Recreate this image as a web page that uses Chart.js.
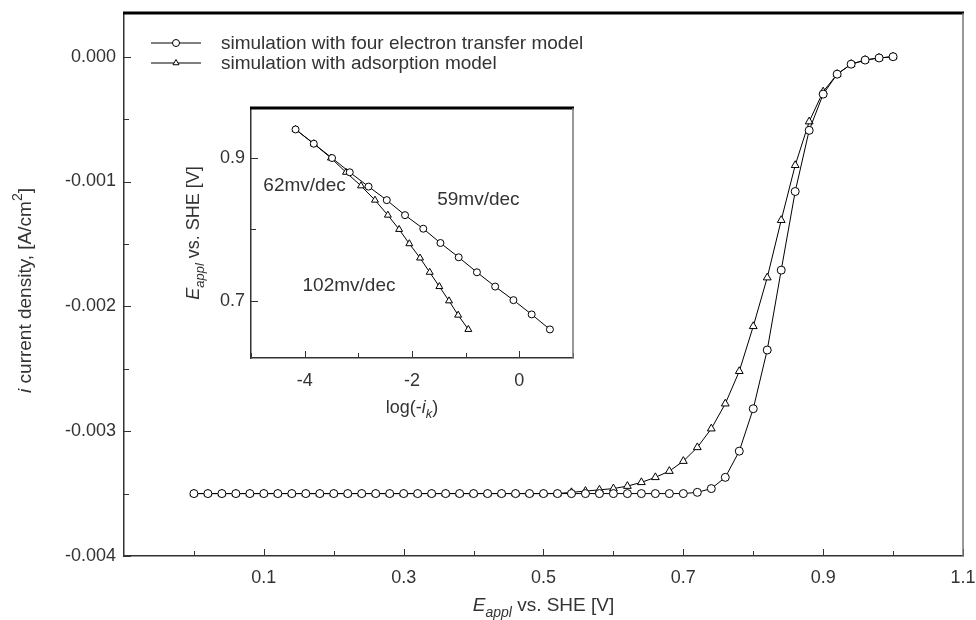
<!DOCTYPE html>
<html>
<head>
<meta charset="utf-8">
<script src="https://cdn.jsdelivr.net/npm/chart.js@4.4.0/dist/chart.umd.min.js"></script>
<style>
  html, body { margin: 0; padding: 0; background: #fff; }
  #wrap { position: relative; width: 976px; height: 620px; }
  #main { position: absolute; left: 0; top: 0; }
  #inset { position: absolute; left: 150px; top: 95px; }
</style>
</head>
<body>
<div id="wrap">
  <canvas id="main" width="976" height="620" style="width:976px;height:620px"></canvas>
  <canvas id="inset" width="440" height="330" style="width:440px;height:330px"></canvas>
</div>
<script>
// main plot: E_appl (V) vs current density (A/cm2)
const potential = [
  0.00, 0.02, 0.04, 0.06, 0.08, 0.10, 0.12, 0.14, 0.16, 0.18,
  0.20, 0.22, 0.24, 0.26, 0.28, 0.30, 0.32, 0.34, 0.36, 0.38,
  0.40, 0.42, 0.44, 0.46, 0.48, 0.50, 0.52, 0.54, 0.56, 0.58,
  0.60, 0.62, 0.64, 0.66, 0.68, 0.70, 0.72, 0.74, 0.76, 0.78,
  0.80, 0.82, 0.84, 0.86, 0.88, 0.90, 0.92, 0.94, 0.96, 0.98,
  1.00
];
const fourElectron = [
  -0.0035, -0.0035, -0.0035, -0.0035, -0.0035, -0.0035, -0.0035, -0.0035, -0.0035, -0.0035,
  -0.0035, -0.0035, -0.0035, -0.0035, -0.0035, -0.0035, -0.0035, -0.0035, -0.0035, -0.0035,
  -0.0035, -0.0035, -0.0035, -0.0035, -0.0035, -0.0035, -0.0035, -0.0035, -0.0035, -0.0035,
  -0.0035, -0.0035, -0.0035, -0.0035, -0.0035, -0.0035, -0.00349, -0.00346, -0.00337, -0.00316,
  -0.00282, -0.00235, -0.00171, -0.00108, -0.00059, -0.00030, -0.00014, -0.00006, -0.000027, -0.00001,
  0.0
];
const adsorption = [
  -0.0035, -0.0035, -0.0035, -0.0035, -0.0035, -0.0035, -0.0035, -0.0035, -0.0035, -0.0035,
  -0.0035, -0.0035, -0.0035, -0.0035, -0.0035, -0.0035, -0.0035, -0.0035, -0.0035, -0.0035,
  -0.0035, -0.0035, -0.0035, -0.0035, -0.0035, -0.0035, -0.0035, -0.00349, -0.00348, -0.00347,
  -0.00346, -0.00344, -0.00341, -0.00337, -0.00332, -0.00324, -0.00313, -0.00298, -0.00278, -0.00252,
  -0.00216, -0.00177, -0.00131, -0.00087, -0.00052, -0.00028, -0.00014, -0.00006, -0.000027, -0.00001,
  0.0
];
const mainXTicks = [0.1, 0.3, 0.5, 0.7, 0.9, 1.1];
const mainXMinor = [0.0, 0.2, 0.4, 0.6, 0.8, 1.0];
const mainYTicks = [0, -0.001, -0.002, -0.003, -0.004];
const mainYMinor = [-0.0005, -0.0015, -0.0025, -0.0035];
const legendLabels = ['simulation with four electron transfer model', 'simulation with adsorption model'];

// inset: Tafel plot
const logIkFour = [-4.17, -3.83, -3.49, -3.16, -2.81, -2.47, -2.13, -1.79, -1.47, -1.13, -0.79, -0.45, -0.11, 0.23, 0.57];
const eFour = [0.940, 0.920, 0.900, 0.880, 0.860, 0.841, 0.820, 0.801, 0.781, 0.761, 0.740, 0.720, 0.701, 0.681, 0.660];
const logIkAds = [-4.17, -3.83, -3.51, -3.23, -2.95, -2.69, -2.45, -2.24, -2.05, -1.85, -1.67, -1.49, -1.31, -1.14, -0.95];
const eAds = [0.940, 0.920, 0.900, 0.880, 0.861, 0.841, 0.820, 0.800, 0.780, 0.760, 0.740, 0.720, 0.700, 0.680, 0.660];
const insetXTicks = [-4, -2, 0];
const insetXMinor = [-5, -3, -1, 1];
const insetYTicks = [0.9, 0.7];
const insetYMinor = [0.8];
const slopeNotes = [
  { text: '62mv/dec', x: -4.77, y: 0.861 },
  { text: '59mv/dec', x: -1.53, y: 0.841 },
  { text: '102mv/dec', x: -4.04, y: 0.721 }
];

const FONT = '"Liberation Sans", Arial, sans-serif';
const INK = '#333';

function richText(ctx, parts, cx, cy, size, rotate) {
  ctx.save();
  ctx.translate(cx, cy);
  if (rotate) ctx.rotate(-Math.PI / 2);
  const fontFor = p => (p.italic ? 'italic ' : '') + (p.shift ? Math.round(size * 0.72) : size) + 'px ' + FONT;
  const widths = parts.map(p => { ctx.font = fontFor(p); return ctx.measureText(p.t).width; });
  let xx = -widths.reduce((s, w) => s + w, 0) / 2;
  ctx.textBaseline = 'middle';
  ctx.fillStyle = INK;
  parts.forEach((p, i) => {
    ctx.font = fontFor(p);
    const dy = p.shift === 'sub' ? size * 0.35 : p.shift === 'sup' ? -size * 0.4 : 0;
    ctx.fillText(p.t, xx, dy);
    xx += widths[i];
  });
  ctx.restore();
}

// inward ticks, heavy top frame, thin right frame, axis titles, legend
function makeFrame(o) {
  return {
    id: 'axisFrame',
    afterDraw(chart) {
      const { ctx, chartArea: a, scales: { x, y } } = chart;
      const seg = (x1, y1, x2, y2) => { ctx.beginPath(); ctx.moveTo(x1, y1); ctx.lineTo(x2, y2); ctx.stroke(); };
      ctx.save();
      ctx.strokeStyle = INK;
      ctx.lineWidth = 1;
      o.xMajor.forEach(v => { const p = Math.round(x.getPixelForValue(v)) + 0.5; seg(p, a.bottom, p, a.bottom - 7); });
      o.xMinor.forEach(v => { const p = Math.round(x.getPixelForValue(v)) + 0.5; seg(p, a.bottom, p, a.bottom - 5); });
      o.yMajor.forEach(v => { const p = Math.round(y.getPixelForValue(v)) + 0.5; seg(a.left, p, a.left + 7, p); });
      o.yMinor.forEach(v => { const p = Math.round(y.getPixelForValue(v)) + 0.5; seg(a.left, p, a.left + 5, p); });
      ctx.strokeStyle = '#000';
      ctx.lineWidth = 3;
      seg(a.left - 1, a.top, a.right + 1, a.top);
      ctx.strokeStyle = '#777';
      ctx.lineWidth = 1.5;
      seg(a.right, a.top, a.right, a.bottom);

      const t = o.titles;
      richText(ctx, t.x, (a.left + a.right) / 2 + t.xShift, a.bottom + t.xGap, t.size, false);
      richText(ctx, t.y, t.yPos, (a.top + a.bottom) / 2 + t.yShift, t.size, true);

      if (o.legend) {
        chart.data.datasets.forEach((ds, i) => {
          const ly = o.legend.y + i * o.legend.step;
          ctx.strokeStyle = '#000';
          ctx.lineWidth = 1;
          seg(o.legend.x, ly, o.legend.x + 50, ly);
          ctx.fillStyle = '#fff';
          Chart.helpers.drawPoint(ctx, { pointStyle: ds.pointStyle, radius: 3.5, rotation: 0, borderWidth: 1 }, o.legend.x + 25, ly);
          ctx.fillStyle = INK;
          ctx.font = o.legend.size + 'px ' + FONT;
          ctx.textBaseline = 'middle';
          ctx.fillText(ds.label, o.legend.x + 70, ly + 1);
        });
      }
      if (o.notes) {
        ctx.fillStyle = INK;
        ctx.font = o.notesSize + 'px ' + FONT;
        ctx.textBaseline = 'middle';
        o.notes.forEach(n => ctx.fillText(n.text, x.getPixelForValue(n.x), y.getPixelForValue(n.y)));
      }
      ctx.restore();
    }
  };
}

function series(label, xs, ys, style, r) {
  return {
    label: label,
    data: xs.map((v, i) => ({ x: v, y: ys[i] })),
    borderColor: '#000',
    borderWidth: 1,
    pointStyle: style,
    pointRadius: r,
    pointBackgroundColor: '#fff',
    pointBorderColor: '#000',
    pointBorderWidth: 1,
    tension: 0
  };
}

function scaleOpts(min, max, ticks, fmt, size, pad, fitFn) {
  return {
    type: 'linear',
    min: min,
    max: max,
    afterBuildTicks: s => { s.ticks = ticks.map(v => ({ value: v })); },
    ticks: { callback: fmt, font: { family: FONT, size: size }, color: INK, padding: pad, maxRotation: 0, autoSkip: false },
    grid: { display: false, drawTicks: false },
    border: { display: true, color: INK, width: 1.5 },
    afterFit: fitFn
  };
}

new Chart(document.getElementById('main'), {
  type: 'line',
  data: {
    datasets: [
      series(legendLabels[0], potential, fourElectron, 'circle', 4),
      series(legendLabels[1], potential, adsorption, 'triangle', 4.5)
    ]
  },
  options: {
    responsive: false,
    animation: false,
    layout: { padding: { left: 0, top: 13, right: 13, bottom: 0 } },
    scales: {
      x: scaleOpts(-0.1, 1.1, mainXTicks, v => v.toFixed(1), 18, 11,
        s => { s.height = 64; s.paddingLeft = 0; s.paddingRight = 0; }),
      y: scaleOpts(-0.004, 0.00035, mainYTicks, v => v.toFixed(3), 18, 8,
        s => { s.width = 124; s.paddingTop = 0; s.paddingBottom = 0; })
    },
    plugins: { legend: { display: false }, tooltip: { enabled: false } }
  },
  plugins: [makeFrame({
    xMajor: mainXTicks, xMinor: mainXMinor, yMajor: mainYTicks, yMinor: mainYMinor,
    titles: {
      size: 19, xGap: 50, xShift: 0, yPos: 26, yShift: 6,
      x: [{ t: 'E', italic: true }, { t: 'appl', italic: true, shift: 'sub' }, { t: ' vs. SHE [V]' }],
      y: [{ t: 'i', italic: true }, { t: ' current density, [A/cm' }, { t: '2', shift: 'sup' }, { t: ']' }]
    },
    legend: { x: 151, y: 43, step: 20, size: 19 }
  })]
});

new Chart(document.getElementById('inset'), {
  type: 'line',
  data: {
    datasets: [
      series(legendLabels[0], logIkFour, eFour, 'circle', 3.5),
      series(legendLabels[1], logIkAds, eAds, 'triangle', 4)
    ]
  },
  options: {
    responsive: false,
    animation: false,
    layout: { padding: { left: 0, top: 13, right: 17, bottom: 0 } },
    scales: {
      x: scaleOpts(-5, 1, insetXTicks, v => String(v), 18, 12,
        s => { s.height = 67; s.paddingLeft = 0; s.paddingRight = 0; }),
      y: scaleOpts(0.62, 0.97, insetYTicks, v => v.toFixed(1), 18, 6,
        s => { s.width = 101; s.paddingTop = 0; s.paddingBottom = 0; })
    },
    plugins: { legend: { display: false }, tooltip: { enabled: false } }
  },
  plugins: [makeFrame({
    xMajor: insetXTicks, xMinor: insetXMinor, yMajor: insetYTicks, yMinor: insetYMinor,
    titles: {
      size: 18, xGap: 50, xShift: 0, yPos: 44, yShift: 0,
      x: [{ t: 'log(-' }, { t: 'i', italic: true }, { t: 'k', italic: true, shift: 'sub' }, { t: ')' }],
      y: [{ t: 'E', italic: true }, { t: 'appl', italic: true, shift: 'sub' }, { t: ' vs. SHE [V]' }]
    },
    notes: slopeNotes,
    notesSize: 19
  })]
});
</script>
</body>
</html>
